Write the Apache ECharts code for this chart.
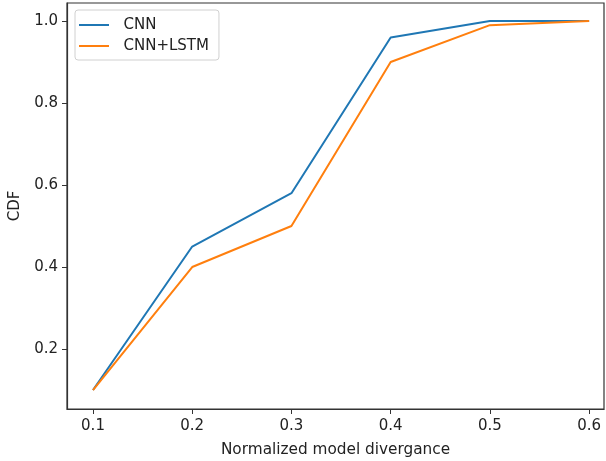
<!DOCTYPE html>
<html><head><meta charset="utf-8">
<script src="https://cdn.jsdelivr.net/npm/echarts@6/dist/echarts.min.js"></script>
<style>html,body{margin:0;padding:0;background:#fff}#c{width:606px;height:461px}</style>
</head><body><div id="c"></div>
<script>
const xValues = [0.1, 0.2, 0.3, 0.4, 0.5, 0.6];
const cnn = [0.10, 0.45, 0.58, 0.96, 1.00, 1.00];
const cnnLstm = [0.10, 0.40, 0.50, 0.90, 0.99, 1.00];
const xTicks = [0.1, 0.2, 0.3, 0.4, 0.5, 0.6];
const yTicks = [0.2, 0.4, 0.6, 0.8, 1.0];

const chart = echarts.init(document.getElementById('c'));
const font = 'DejaVu Sans';
chart.setOption({
  animation: false,
  grid: {left: 67, right: 2, top: 3, bottom: 52, show: true, borderColor: '#333', borderWidth: 1.2,
    outerBoundsMode: 'none', containLabel: false},
  legend: {
    orient: 'vertical', left: 75, top: 10,
    data: ['CNN', 'CNN+LSTM'],
    icon: 'path://M0,0 L30,0 L30,2 L0,2 Z',
    itemWidth: 33, itemHeight: 2, itemGap: 5,
    backgroundColor: '#fff', borderColor: '#d0d0d0', borderWidth: 1, borderRadius: 3,
    padding: [7, 10, 6, 4],
    textStyle: {fontFamily: font, fontSize: 15, color: '#222', padding: [0, 0, 0, 8], height: 16, lineHeight: 16}
  },
  xAxis: {
    type: 'value', min: 0.0738, max: 0.615,
    name: 'Normalized model divergance', nameLocation: 'middle', nameGap: 34,
    nameTextStyle: {fontFamily: font, fontSize: 15.3, color: '#222'},
    splitLine: {show: false},
    axisLine: {show: true, onZero: false, lineStyle: {color: '#333', width: 1.2}},
    axisTick: {show: true, length: 5, customValues: xTicks, lineStyle: {color: '#333'}},
    axisLabel: {customValues: xTicks, fontFamily: font, fontSize: 15, color: '#222', margin: 10,
      formatter: v => v.toFixed(1)}
  },
  yAxis: {
    type: 'value', min: 0.0537, max: 1.044,
    name: 'CDF', nameLocation: 'middle', nameGap: 44,
    nameTextStyle: {fontFamily: font, fontSize: 15, color: '#222'},
    splitLine: {show: false},
    axisLine: {show: true, onZero: false, lineStyle: {color: '#333', width: 1.2}},
    axisTick: {show: true, length: 5, customValues: yTicks, lineStyle: {color: '#333'}},
    axisLabel: {customValues: yTicks, fontFamily: font, fontSize: 15, color: '#222', margin: 9,
      formatter: v => v.toFixed(1)}
  },
  series: [
    {name: 'CNN', type: 'line', data: xValues.map((x, i) => [x, cnn[i]]),
      showSymbol: false, lineStyle: {color: '#1f77b4', width: 2}, itemStyle: {color: '#1f77b4'}},
    {name: 'CNN+LSTM', type: 'line', data: xValues.map((x, i) => [x, cnnLstm[i]]),
      showSymbol: false, lineStyle: {color: '#ff7f0e', width: 2}, itemStyle: {color: '#ff7f0e'}}
  ]
});
</script></body></html>
